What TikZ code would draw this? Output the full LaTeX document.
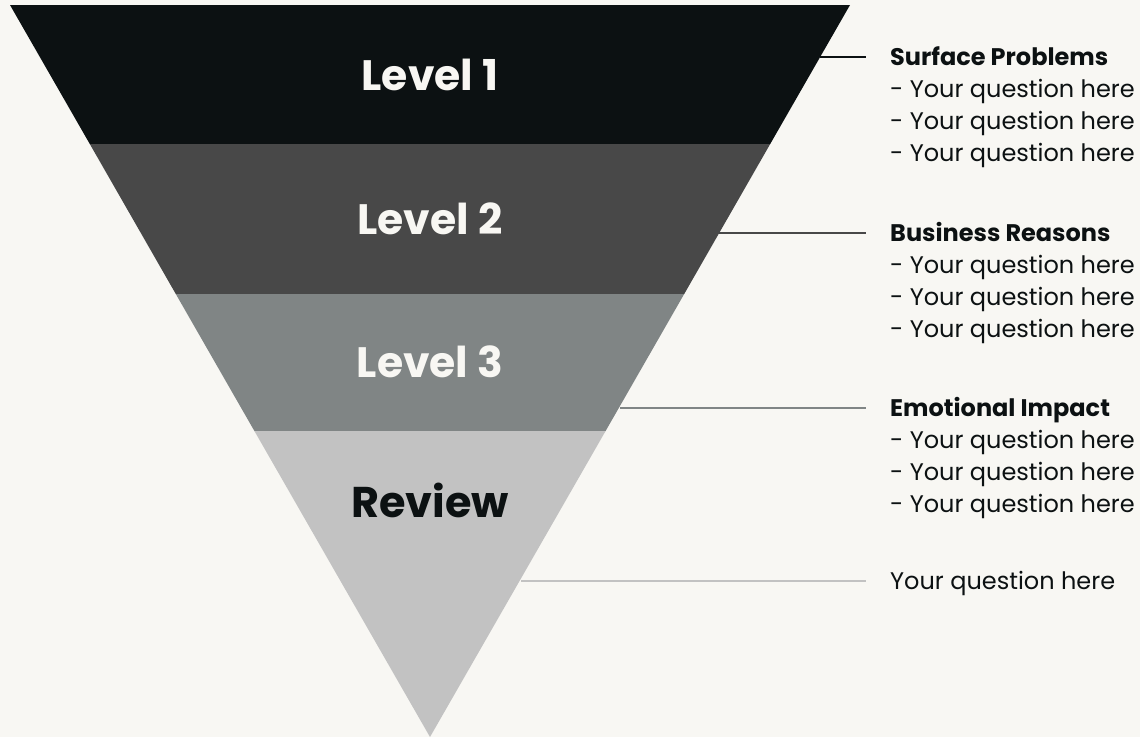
\documentclass[tikz,border=0pt]{standalone}
\usepackage{fontspec}
\setmainfont{Poppins}
\definecolor{bg}{HTML}{F8F7F3}
\definecolor{c1}{HTML}{0C1112}
\definecolor{c2}{HTML}{484848}
\definecolor{c3}{HTML}{808585}
\definecolor{c4}{HTML}{C2C2C2}
\definecolor{lt}{HTML}{F8F7F3}
\begin{document}
\begin{tikzpicture}[x=1pt,y=-1pt,
  lvl/.style={font=\fontsize{42.5}{44}\selectfont\bfseries, anchor=center, inner sep=0pt},
  conn/.style={line width=1.7pt},
  head/.style={font=\fontsize{24}{26}\selectfont\bfseries, text=c1, anchor=base west, inner sep=0pt},
  item/.style={font=\fontsize{24}{26}\selectfont, text=c1, anchor=base west, inner sep=0pt}]
\fill[bg] (0,0) rectangle (1140,737);
\useasboundingbox (0,0) rectangle (1140,737);
% bands
\fill[c1] (10,5) -- (850,5) -- (770.2,144) -- (89.8,144) -- cycle;
\fill[c2] (89.8,144) -- (770.2,144) -- (684.2,294) -- (175.8,294) -- cycle;
\fill[c3] (175.8,294) -- (684.2,294) -- (605.6,431) -- (254.4,431) -- cycle;
\fill[c4] (254.4,431) -- (605.6,431) -- (430,737) -- cycle;
% level labels
\node[lvl, text=lt] (L1) at (430,75) {Level 1};
\node[lvl, text=lt] (L2) at (430,219) {Level 2};
\node[lvl, text=lt] (L3) at (430,362) {Level 3};
\node[lvl, text=c1, font=\fontsize{43}{46}\selectfont\bfseries] (RV) at (430,500) {Review};
% connector endpoints
\coordinate (e1) at (820.2,57);
\coordinate (e2) at (717.6,233);
\coordinate (e3) at (619.6,408);
\coordinate (e4) at (521.4,581);
\coordinate (t1) at (866,57);
\coordinate (t2) at (866,233);
\coordinate (t3) at (866,408);
\coordinate (t4) at (866,581);
\draw[conn, c1] (e1) -- (t1);
\draw[conn, c2] (e2) -- (t2);
\draw[conn, c3] (e3) -- (t3);
\draw[conn, c4] (e4) -- (t4);
% right texts
\node[head] (h1) at (890,65) {Surface Problems};
\node[item] (h1a) at (890,97) {- Your question here};
\node[item] (h1b) at (890,129) {- Your question here};
\node[item] (h1c) at (890,161) {- Your question here};
\node[head] (h2) at (890,241) {Business Reasons};
\node[item] (h2a) at (890,273) {- Your question here};
\node[item] (h2b) at (890,305) {- Your question here};
\node[item] (h2c) at (890,337) {- Your question here};
\node[head] (h3) at (890,416) {Emotional Impact};
\node[item] (h3a) at (890,448) {- Your question here};
\node[item] (h3b) at (890,480) {- Your question here};
\node[item] (h3c) at (890,512) {- Your question here};
\node[item] (h4) at (890,589) {Your question here};
\end{tikzpicture}
\end{document}
